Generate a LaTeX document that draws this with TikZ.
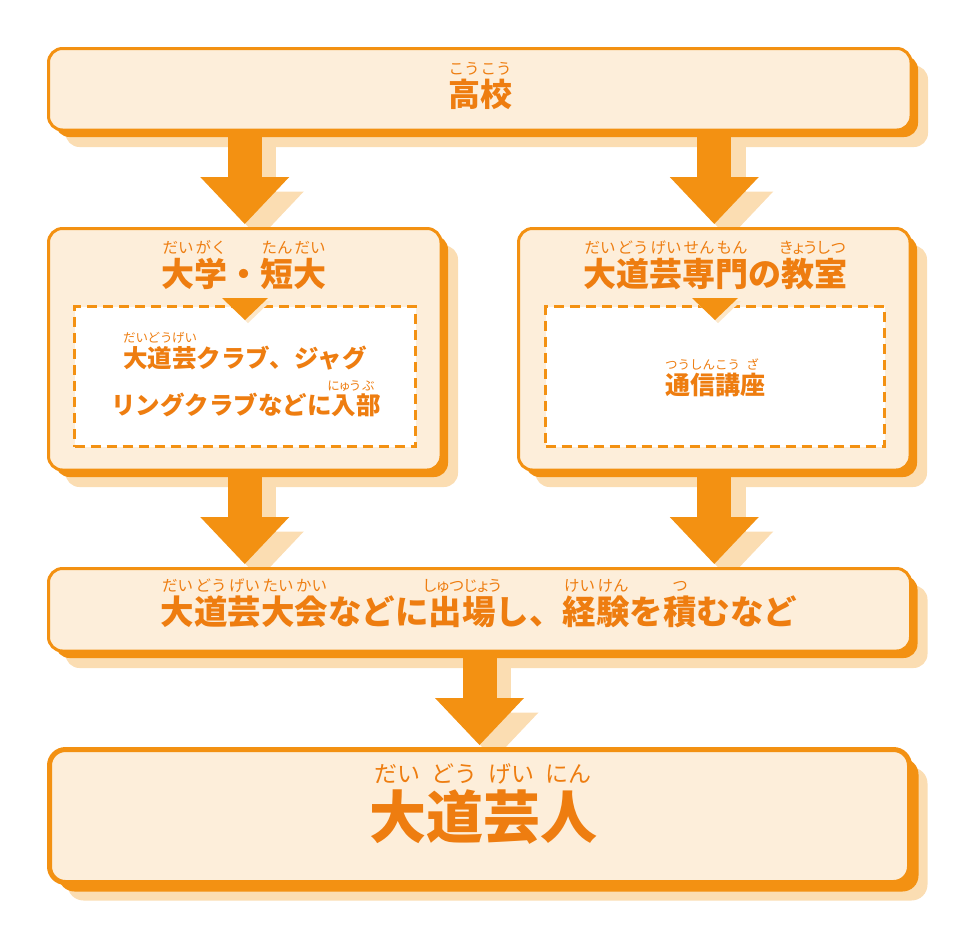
\documentclass[tikz,border=0pt]{standalone}
\usepackage{fontspec}
\setmainfont{Noto Sans CJK JP}
\newfontfamily\rubyfont{Noto Sans CJK JP}
\newfontfamily\rubyprop{Noto Sans CJK JP}[RawFeature=+palt]
\usepackage{tikz}
\usetikzlibrary{arrows.meta, shadows, positioning, calc}
\definecolor{boxorange}{HTML}{F39112}
\definecolor{boxfill}{HTML}{FDEEDA}
\definecolor{shadowc}{HTML}{FBDDB2}
\definecolor{textorange}{HTML}{EE7D10}
\pgfdeclarelayer{back}
\pgfdeclarelayer{front}
\pgfsetlayers{back,main,front}
\newlength\rbsize
\newcommand\rb[3][\rubyfont]{\setbox0\hbox{#2}\copy0\llap{\makebox[\wd0]{\raisebox{0.98em}[0pt][0pt]{\makebox[0pt]{\fontsize{\rbsize}{\rbsize}#1\mdseries #3}}}}}

\begin{document}
\begin{tikzpicture}[x=1pt, y=-1pt,
    panel/.style={rectangle, rounded corners=14pt, draw=boxorange, fill=boxfill, inner sep=0pt, outer sep=0pt},
    stage/.style={panel, line width=3pt,
        general shadow={fill=shadowc, shadow xshift=17pt, shadow yshift=-17pt},
        general shadow={fill=boxorange, shadow xshift=7pt, shadow yshift=-7pt}},
    goal/.style={panel, line width=5pt, rounded corners=16pt,
        general shadow={fill=shadowc, shadow xshift=18pt, shadow yshift=-18pt},
        general shadow={fill=boxorange, shadow xshift=9pt, shadow yshift=-9pt}},
    dashbox/.style={rectangle, draw=boxorange, line width=3pt, dash pattern=on 10pt off 6pt, fill=white, inner sep=0pt, outer sep=0pt},
    lbl/.style={text=textorange, inner sep=0pt, anchor=base},
    bigarrow/.style={draw=boxorange, line width=34pt, shorten >=4.5pt, -{Triangle[width=89pt, length=47pt, line width=0pt]}},
    shadearrow/.style={bigarrow, draw=shadowc, transform canvas={shift={(14.5pt,-14.5pt)}}}]
    \useasboundingbox (0, 0) rectangle (960, 935);
    \node[stage, minimum width=862.5pt, minimum height=81.5pt] (hs) at (479.75, 89.25) {};
    \node[stage, minimum width=392.5pt, minimum height=241.5pt] (uni) at (244.75, 349.25) {};
    \node[stage, minimum width=391.5pt, minimum height=241.5pt] (sch) at (714.25, 349.25) {};
    \node[stage, minimum width=862pt, minimum height=82.5pt] (meet) at (479.5, 609.75) {};
    \node[goal, minimum width=860pt, minimum height=133pt] (pro) at (479.5, 816) {};
    \node[dashbox, minimum width=341pt, minimum height=140pt] (club) at (245, 376.5) {};
    \node[dashbox, minimum width=339pt, minimum height=140pt] (corr) at (715, 376.5) {};
    \foreach \n in {club, corr} {
        \fill[shadowc!70!white] ($(\n.north)+(-20, -5.5)$) -- ++(46, 0) -- ++(-23, 22) -- cycle;
        \fill[boxorange] ($(\n.north)+(-23, -8.5)$) -- ++(46, 0) -- ++(-23, 22) -- cycle;
    }
    \node[lbl, font=\fontsize{32}{32}\selectfont\bfseries\setlength\rbsize{15.5pt}] (hs-text) at (480, 106) {\rb{高}{こう}\rb{校}{こう}};
    \node[lbl, font=\fontsize{33}{33}\selectfont\bfseries\setlength\rbsize{15.5pt}] (uni-text) at (244, 286) {\rb{大}{だい}\rb{学}{がく}・\rb{短}{たん}\rb{大}{だい}};
    \node[lbl, font=\fontsize{33}{33}\selectfont\bfseries\setlength\rbsize{15.5pt}] (sch-text) at (715.5, 286) {\rb{大}{だい}\rb{道}{どう}\rb{芸}{げい}\rb{専}{せん}\rb{門}{もん}の\rb[\rubyprop]{教}{きょう}\rb{室}{しつ}};
    \node[lbl, font=\fontsize{24.5}{24.5}\selectfont\bfseries\setlength\rbsize{12.5pt}] (club-a) at (245, 367) {\rb{大}{だい}\rb{道}{どう}\rb{芸}{げい}クラブ、ジャグ};
    \node[lbl, font=\fontsize{24.5}{24.5}\selectfont\bfseries\setlength\rbsize{12.5pt}] (club-b) at (246, 414) {リングクラブなどに\rb[\rubyprop]{入}{にゅう}\rb{部}{ぶ}};
    \node[lbl, font=\fontsize{25}{25}\selectfont\bfseries\setlength\rbsize{12.5pt}] (corr-text) at (715, 394) {\rb{通}{つう}\rb{信}{しん}\rb{講}{こう}\rb{座}{ざ}};
    \node[lbl, font=\fontsize{33.5}{33.5}\selectfont\bfseries\setlength\rbsize{15.5pt}] (meet-text) at (479, 624) {\rb{大}{だい}\rb{道}{どう}\rb{芸}{げい}\rb{大}{たい}\rb{会}{かい}などに\rb[\rubyprop]{出場}{しゅつじょう}し、\rb{経}{けい}\rb{験}{けん}を\rb{積}{つ}むなど};
    \node[lbl, font=\fontsize{57}{57}\selectfont\bfseries\setlength\rbsize{23pt}] (pro-text) at (483, 838) {\rb{大}{だい}\rb{道}{どう}\rb{芸}{げい}\rb{人}{にん}};
    \begin{pgfonlayer}{back}
        \draw[shadearrow] (uni.north |- hs.south) -- (uni.north);
        \draw[shadearrow] (sch.north |- hs.south) -- (sch.north);
        \draw[shadearrow] (uni.south) -- (uni.south |- meet.north);
        \draw[shadearrow] (sch.south) -- (sch.south |- meet.north);
        \draw[shadearrow] (meet.south) -- (pro.north);
    \end{pgfonlayer}
    \begin{pgfonlayer}{front}
        \draw[bigarrow] (uni.north |- hs.south) -- (uni.north);
        \draw[bigarrow] (sch.north |- hs.south) -- (sch.north);
        \draw[bigarrow] (uni.south) -- (uni.south |- meet.north);
        \draw[bigarrow] (sch.south) -- (sch.south |- meet.north);
        \draw[bigarrow] (meet.south) -- (pro.north);
    \end{pgfonlayer}
\end{tikzpicture}
\end{document}
